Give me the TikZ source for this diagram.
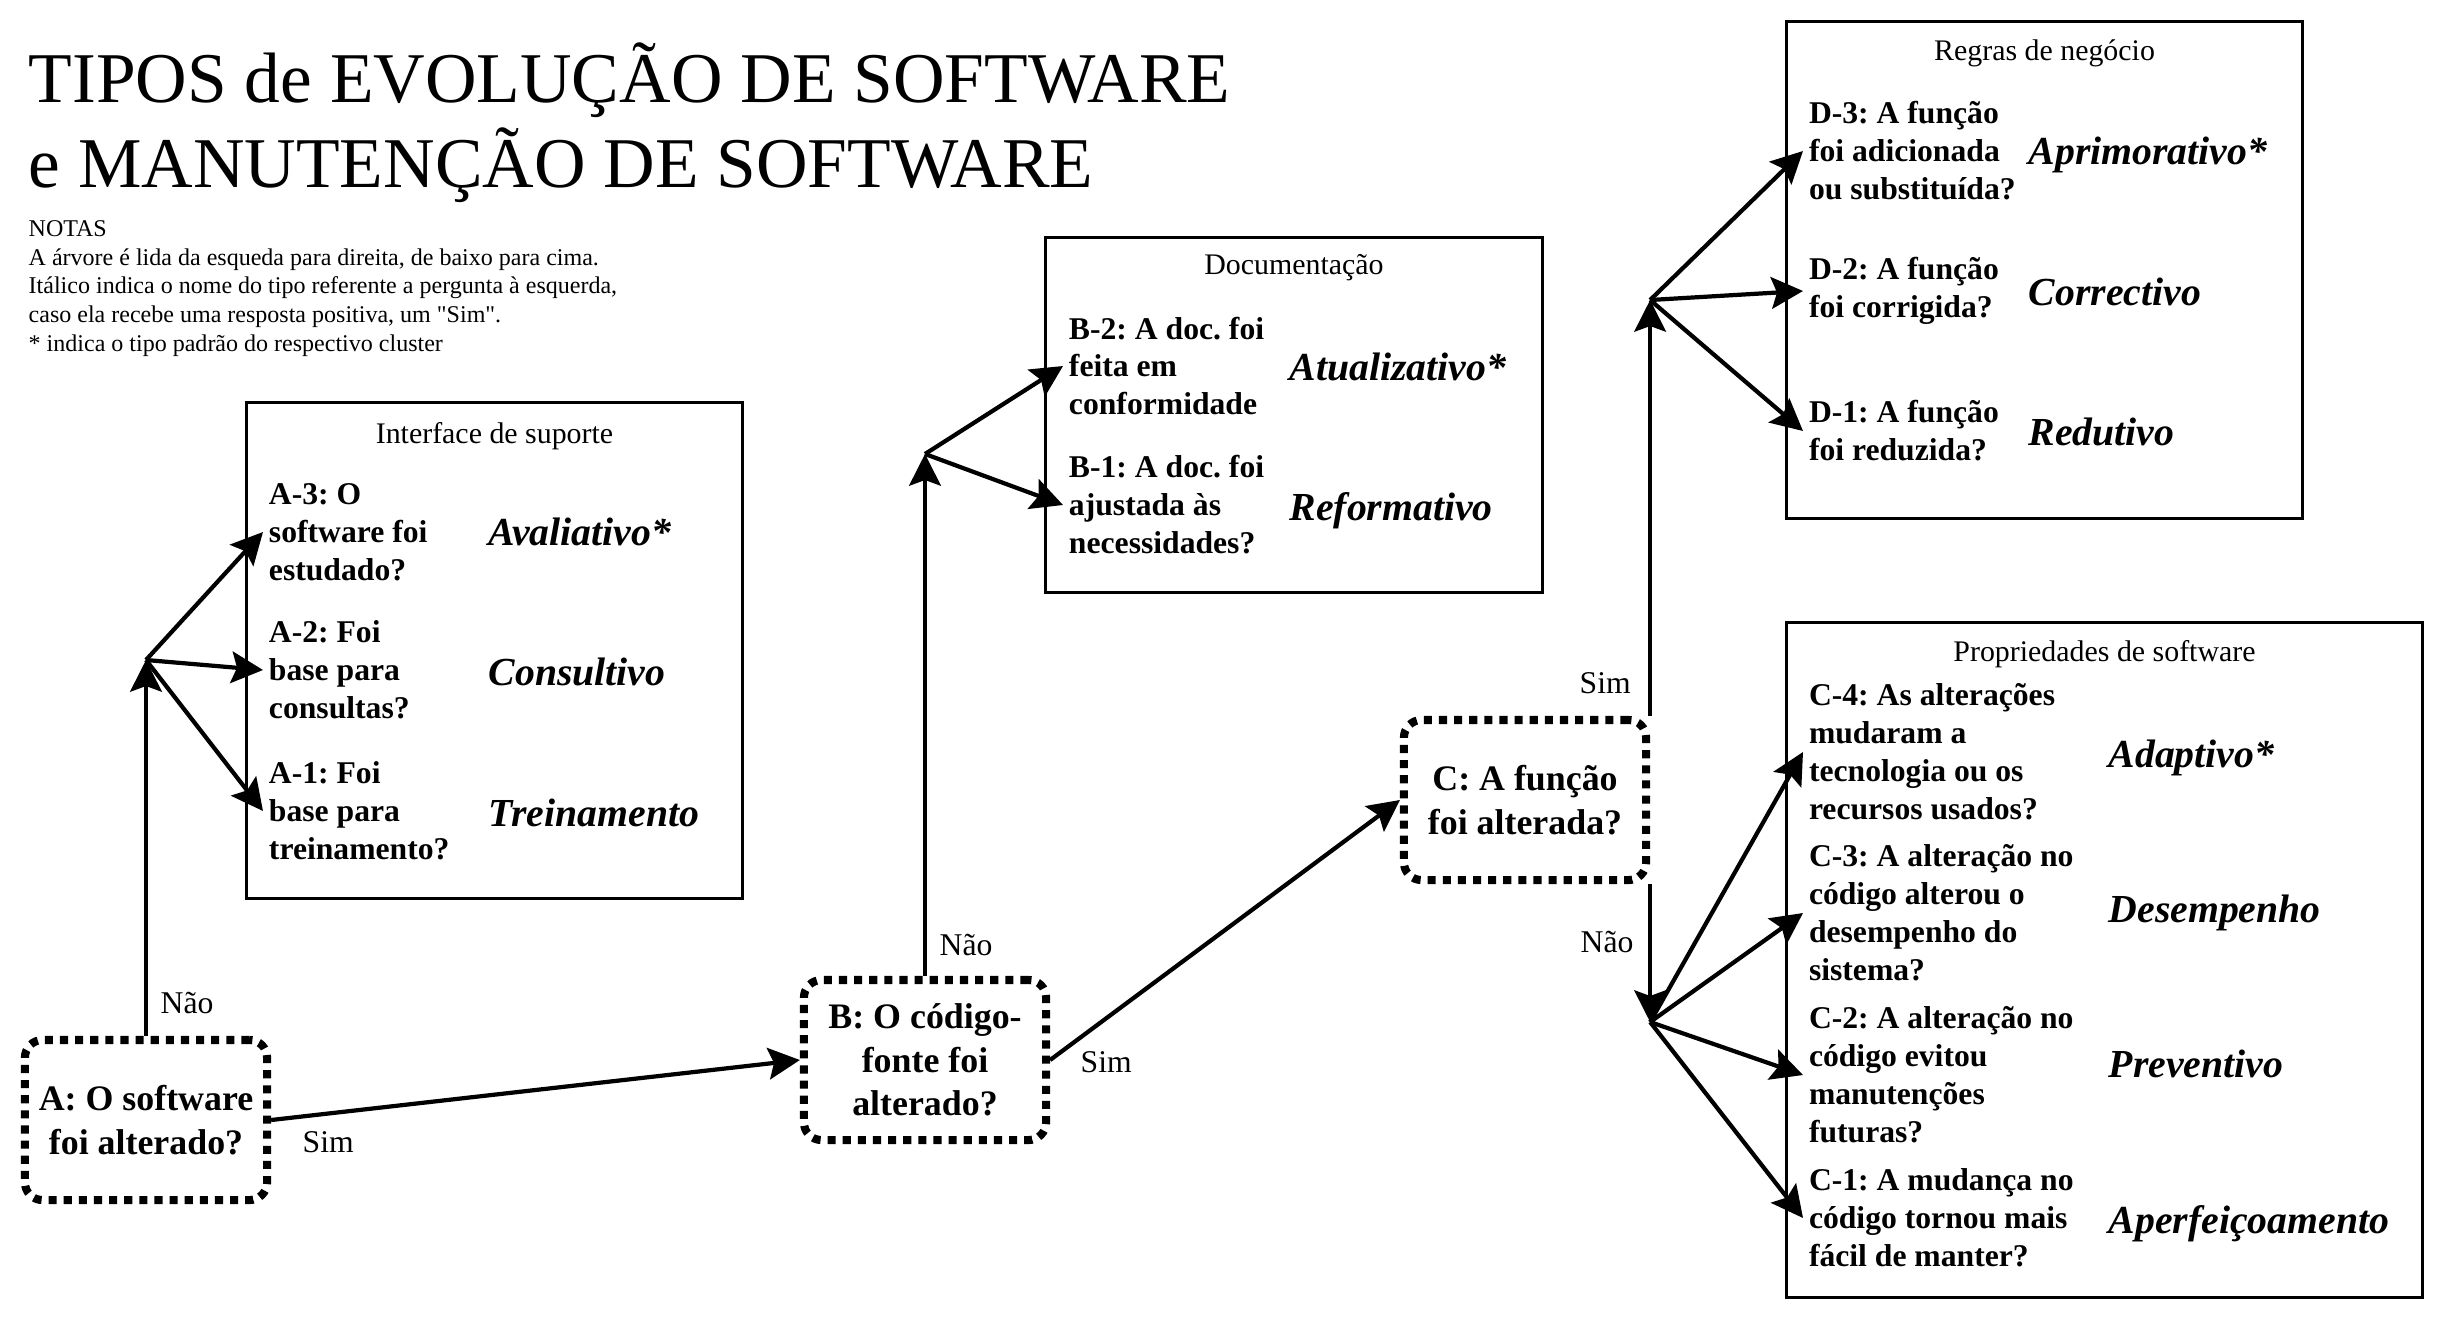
\documentclass[tikz,border=0pt]{standalone}
\usepackage{fontspec}
\setmainfont{Liberation Serif}[Ligatures=TeXOff]
\usetikzlibrary{arrows.meta}
\tikzset{
  >={Stealth[length=9pt,width=9pt,inset=1.6pt]},
  seta/.style={->,line width=1.2pt},
  titulo/.style={anchor=base west,inner sep=0pt,font=\fontsize{20.3}{24}\selectfont},
  notas/.style={anchor=north west,inner sep=0pt,align=left,font=\fontsize{6.83}{8.14}\selectfont},
  decisao/.style={draw,line width=2.3pt,dash pattern=on 2.3pt off 2pt,rounded corners=5pt,
    minimum width=2.42cm,minimum height=1.6cm,align=center,font=\fontsize{10.2}{12.4}\selectfont\bfseries},
  moldura/.style={draw,line width=0.9pt},
  titmold/.style={anchor=base,inner sep=0pt,font=\fontsize{8.5}{10}\selectfont},
  pergunta/.style={anchor=west,align=left,inner sep=1.5pt,font=\fontsize{9}{10.8}\selectfont\bfseries},
  tipo/.style={anchor=base west,inner sep=0pt,font=\fontsize{11.3}{13}\selectfont\bfseries\itshape},
  resp/.style={anchor=base west,inner sep=0pt,font=\fontsize{9}{11}\selectfont},
}

\begin{document}
\frenchspacing
\begin{tikzpicture}[x=0.01cm,y=-0.01cm]
  \useasboundingbox (0,0) rectangle (2446,1324);

  \node[titulo] (tit1) at (28,102) {TIPOS de EVOLUÇÃO DE SOFTWARE};
  \node[titulo] (tit2) at (28,187) {e MANUTENÇÃO DE SOFTWARE};
  \node[notas] (notas) at (28,220) {NOTAS\\A árvore é lida da esqueda para direita, de baixo para cima.\\Itálico indica o nome do tipo referente a pergunta à esquerda,\\caso ela recebe uma resposta positiva, um "Sim".\\* indica o tipo padrão do respectivo cluster};

  % clusters
  \node[moldura,minimum width=4.96cm,minimum height=4.96cm] (fa) at (494.5,650.5) {};
  \node[moldura,minimum width=4.97cm,minimum height=3.55cm] (fb) at (1294,415) {};
  \node[moldura,minimum width=5.16cm,minimum height=4.97cm] (fd) at (2044.5,270) {};
  \node[moldura,minimum width=6.36cm,minimum height=6.75cm] (fc) at (2104.5,960) {};
  \node[titmold] (tfa) at (494.5,443) {Interface de suporte};
  \node[titmold] (tfb) at (1294,274) {Documentação};
  \node[titmold] (tfd) at (2044.5,60) {Regras de negócio};
  \node[titmold] (tfc) at (2104.5,661) {Propriedades de software};

  % perguntas
  \node[decisao] (A) at (146,1120) {A: O software\\foi alterado?};
  \node[decisao] (B) at (925,1060) {B: O código-\\fonte foi\\alterado?};
  \node[decisao] (C) at (1525,800) {C: A função\\foi alterada?};

  \node[pergunta] (qa3) at (263,532) {A-3: O\\software foi\\estudado?};
  \node[pergunta] (qa2) at (263,670) {A-2: Foi\\base para\\consultas?};
  \node[pergunta] (qa1) at (263,811) {A-1: Foi\\base para\\treinamento?};
  \node[pergunta] (qb2) at (1063,366) {B-2: A doc. foi\\feita em\\conformidade};
  \node[pergunta] (qb1) at (1063,505) {B-1: A doc. foi\\ajustada às\\necessidades?};
  \node[pergunta] (qd3) at (1803,151) {D-3: A função\\foi adicionada\\ou substituída?};
  \node[pergunta] (qd2) at (1803,291) {D-2: A função\\foi corrigida?};
  \node[pergunta] (qd1) at (1803,431) {D-1: A função\\foi reduzida?};
  \node[pergunta] (qc4) at (1803,752) {C-4: As alterações\\mudaram a\\tecnologia ou os\\recursos usados?};
  \node[pergunta] (qc3) at (1803,913) {C-3: A alteração no\\código alterou o\\desempenho do\\sistema?};
  \node[pergunta] (qc2) at (1803,1075) {C-2: A alteração no\\código evitou\\manutenções\\futuras?};
  \node[pergunta] (qc1) at (1803,1218) {C-1: A mudança no\\código tornou mais\\fácil de manter?};

  \node[tipo] (ya3) at (488,545) {Avaliativo*};
  \node[tipo] (ya2) at (488,685) {Consultivo};
  \node[tipo] (ya1) at (488,826) {Treinamento};
  \node[tipo] (yb2) at (1289,380) {Atualizativo*};
  \node[tipo] (yb1) at (1289,520) {Reformativo};
  \node[tipo] (yd3) at (2028,164) {Aprimorativo*};
  \node[tipo] (yd2) at (2028,305) {Correctivo};
  \node[tipo] (yd1) at (2028,445) {Redutivo};
  \node[tipo] (yc4) at (2108,767) {Adaptivo*};
  \node[tipo] (yc3) at (2108,922) {Desempenho};
  \node[tipo] (yc2) at (2108,1077) {Preventivo};
  \node[tipo] (yc1) at (2108,1233) {Aperfeiçoamento};

  \node[resp] (naoA) at (160,1013) {Não};
  \node[resp] (simA) at (302,1152) {Sim};
  \node[resp] (naoB) at (939,955) {Não};
  \node[resp] (simB) at (1080,1072) {Sim};
  \node[resp] (simC) at (1579,693) {Sim};
  \node[resp] (naoC) at (1580,952) {Não};

  \coordinate (ba) at (A.north |- 0,660);
  \coordinate (bb) at (B.north |- 0,454);
  \coordinate (bd) at (C.north east |- 0,300);
  \coordinate (bc) at (C.south east |- 0,1022);

  \draw[seta] (A.east) -- (B.west);
  \draw[seta] (B.east) -- (C.west);
  \draw[seta] (A.north) -- (ba);
  \draw[seta] (B.north) -- (bb);
  \draw[seta] (C.north east) -- (bd);
  \draw[seta] (C.south east) -- (bc);
  \draw[seta] (ba) -- (qa3.west);
  \draw[seta] (ba) -- (qa2.west);
  \draw[seta] (ba) -- (qa1.west);
  \draw[seta] (bb) -- (qb2.west);
  \draw[seta] (bb) -- (qb1.west);
  \draw[seta] (bd) -- (qd3.west);
  \draw[seta] (bd) -- (qd2.west);
  \draw[seta] (bd) -- (qd1.west);
  \draw[seta] (bc) -- (qc4.west);
  \draw[seta] (bc) -- (qc3.west);
  \draw[seta] (bc) -- (qc2.west);
  \draw[seta] (bc) -- (qc1.west);
\end{tikzpicture}
\end{document}
